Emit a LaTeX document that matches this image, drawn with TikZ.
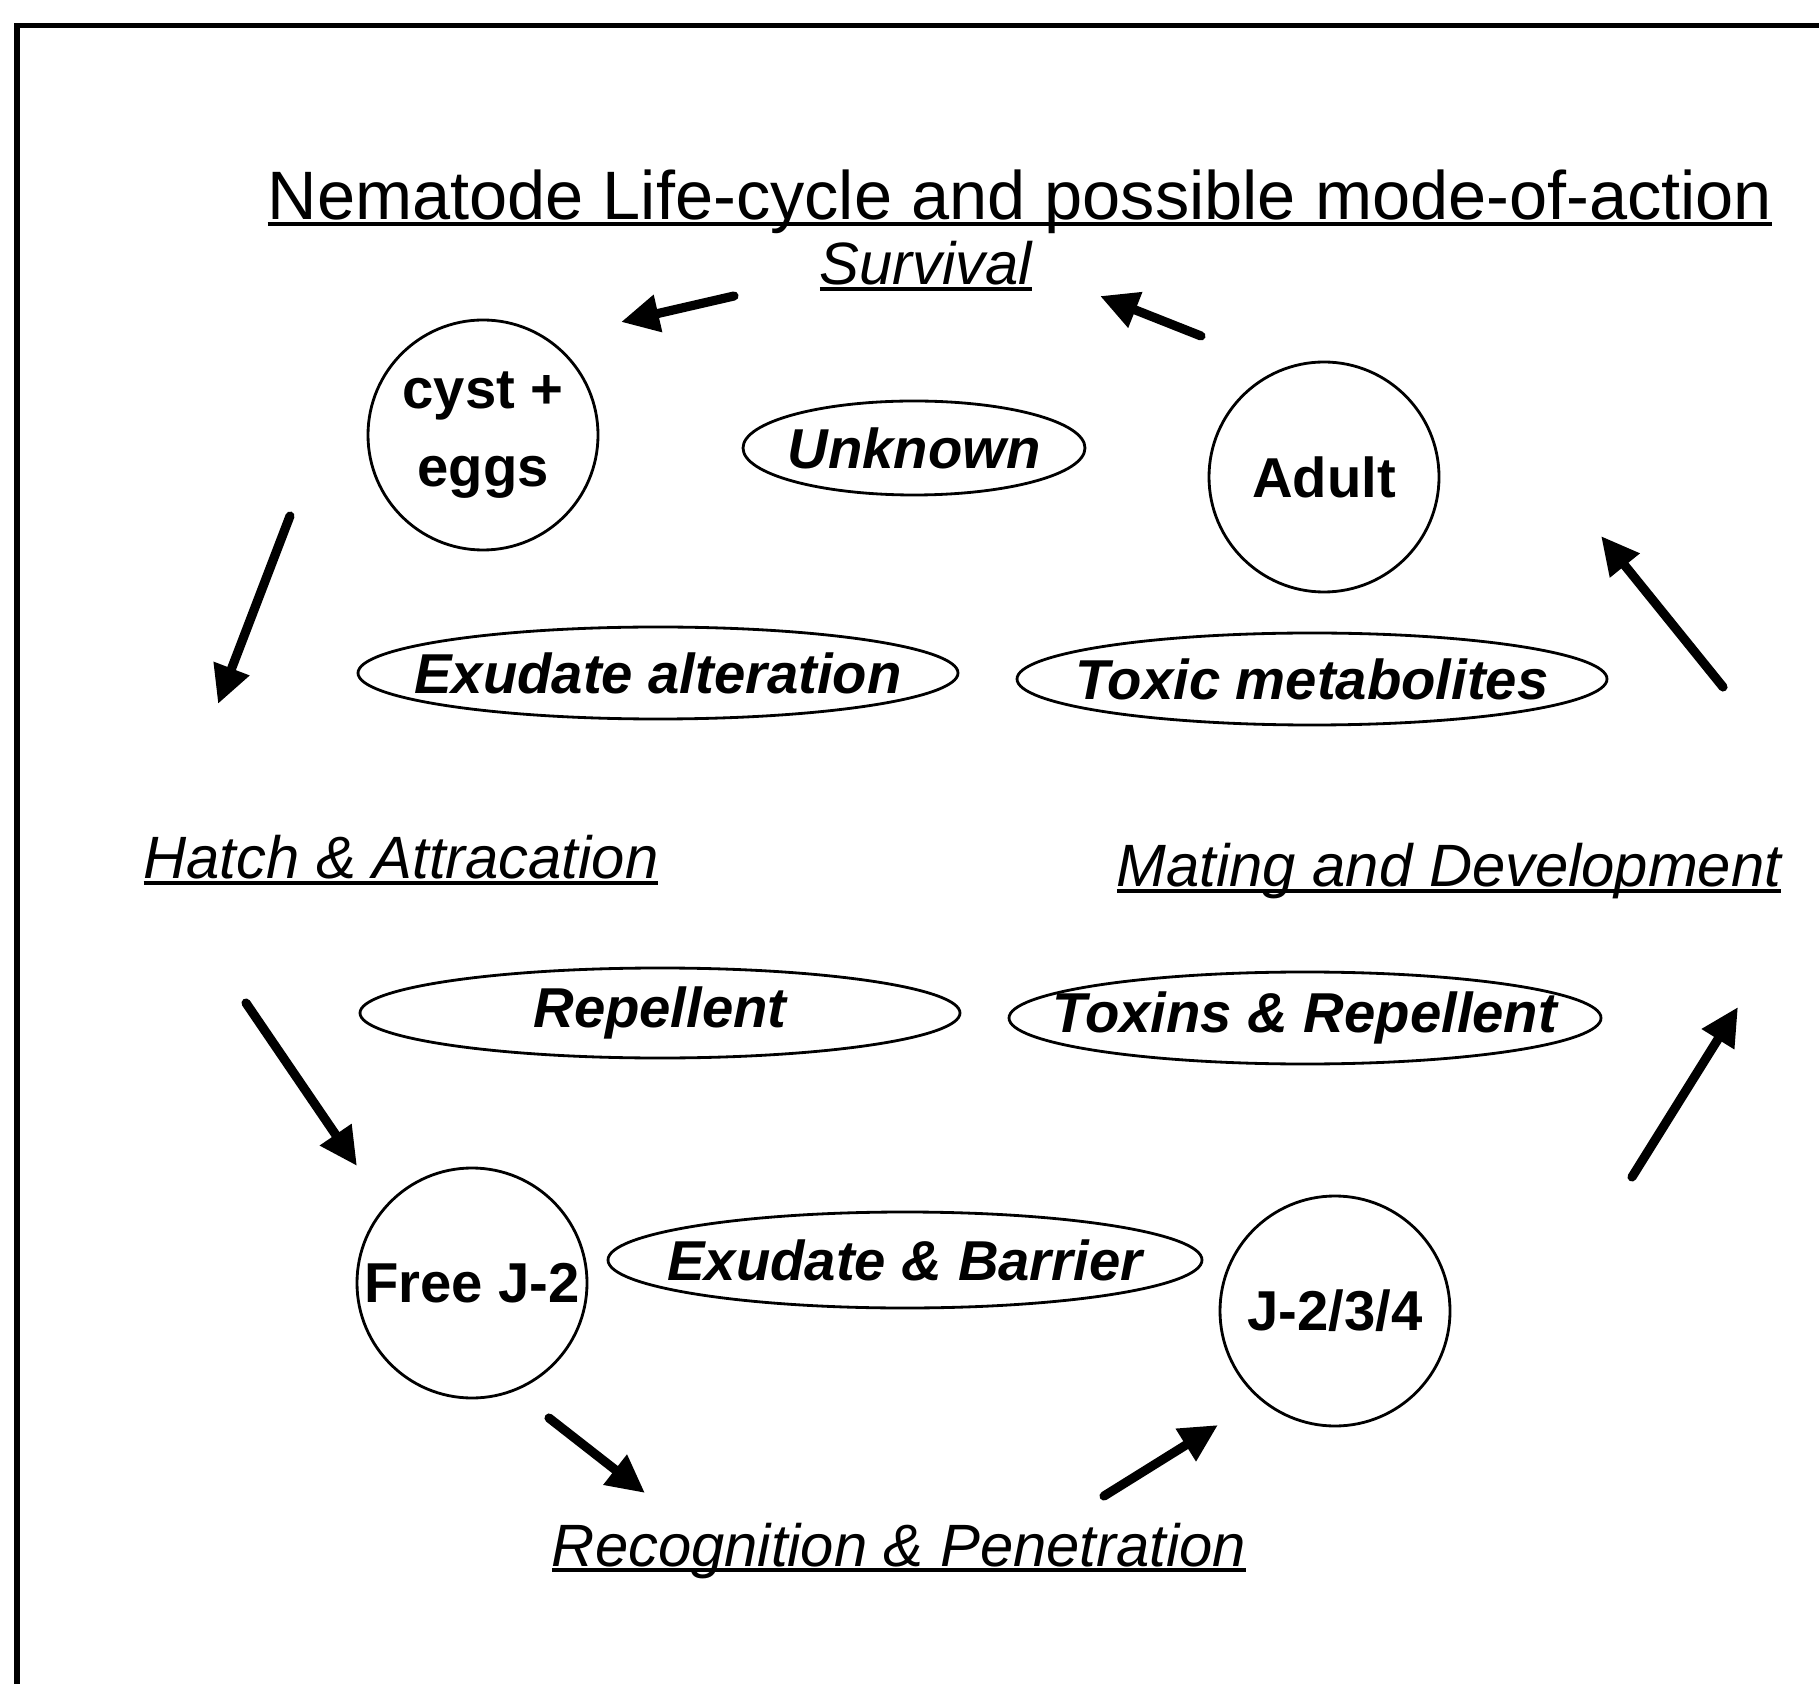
\documentclass[tikz,border=0pt]{standalone}
\usepackage{fontspec}
\setmainfont{Liberation Sans}
\usetikzlibrary{arrows.meta}
\newcommand\ulabel[1]{\setbox0\hbox{#1}\rlap{\rule[-1.8pt]{\wd0}{1.1pt}}\box0}

\begin{document}
\begin{tikzpicture}[stage/.style={circle,draw,line width=0.8pt,inner sep=0pt,minimum size=2.3cm,align=center,font=\fontsize{16}{22}\selectfont\bfseries},
    effect/.style={inner sep=0pt,font=\fontsize{16}{19}\selectfont\bfseries\itshape},
    rim/.style={line width=0.8pt},
    phase/.style={anchor=base,font=\fontsize{17}{20}\selectfont\itshape},
    cycle/.style={line width=2.6pt,line cap=round,-{Triangle[length=0.38cm,width=0.36cm]}}]
    \useasboundingbox (0,0) rectangle (18.19,-16.84);
    \draw[line width=1.5pt] (0.17,-16.84) -- (0.17,-0.255) -- (18.19,-0.255);
    \node[anchor=base,font=\fontsize{19.5}{22}\selectfont] (title) at (10.2,-2.2) {\ulabel{Nematode Life-cycle and possible mode-of-action}};
    \node[phase] (surv) at (9.26,-2.85) {\ulabel{Survival}};
    \node[phase] (hatch) at (4.01,-8.79) {\ulabel{Hatch \& Attracation}};
    \node[phase] (mating) at (14.49,-8.87) {\ulabel{Mating and Development}};
    \node[phase] (recog) at (8.99,-15.66) {\ulabel{Recognition \& Penetration}};
    \node[stage] (cyst) at (4.83,-4.35) {cyst +\\eggs};
    \node[stage] (adult) at (13.24,-4.77) {Adult};
    \node[stage] (freej) at (4.72,-12.83) {Free J-2};
    \node[stage] (latej) at (13.35,-13.11) {J-2/3/4};
    \node[effect] (unknown) at (9.14,-4.48) {Unknown};
    \node[effect] (exalt) at (6.58,-6.73) {Exudate alteration};
    \node[effect] (toxmet) at (13.12,-6.79) {Toxic metabolites};
    \node[effect] (repel) at (6.6,-10.13) {Repellent};
    \node[effect] (toxrep) at (13.05,-10.18) {Toxins \& Repellent};
    \node[effect] (barrier) at (9.05,-12.6) {Exudate \& Barrier};
    \draw[rim] (unknown) ellipse (1.71cm and 0.47cm);
    \draw[rim] (exalt) ellipse (3cm and 0.46cm);
    \draw[rim] (toxmet) ellipse (2.95cm and 0.46cm);
    \draw[rim] (repel) ellipse (3cm and 0.45cm);
    \draw[rim] (toxrep) ellipse (2.96cm and 0.46cm);
    \draw[rim] (barrier) ellipse (2.97cm and 0.48cm);
    \coordinate (sl0) at (7.34,-2.96); \coordinate (sl1) at (6.21,-3.22);
    \coordinate (sr0) at (12.01,-3.36); \coordinate (sr1) at (11,-2.96);
    \coordinate (hl0) at (2.9,-5.16); \coordinate (hl1) at (2.18,-7.04);
    \coordinate (hr0) at (17.23,-6.87); \coordinate (hr1) at (16.01,-5.36);
    \coordinate (ml0) at (2.46,-10.03); \coordinate (ml1) at (3.57,-11.66);
    \coordinate (mr0) at (16.32,-11.77); \coordinate (mr1) at (17.38,-10.07);
    \coordinate (rl0) at (5.49,-14.18); \coordinate (rl1) at (6.45,-14.93);
    \coordinate (rr0) at (11.04,-14.96); \coordinate (rr1) at (12.18,-14.25);
    \draw[cycle] (sl0) -- (sl1);
    \draw[cycle] (sr0) -- (sr1);
    \draw[cycle] (hl0) -- (hl1);
    \draw[cycle] (hr0) -- (hr1);
    \draw[cycle] (ml0) -- (ml1);
    \draw[cycle] (mr0) -- (mr1);
    \draw[cycle] (rl0) -- (rl1);
    \draw[cycle] (rr0) -- (rr1);
\end{tikzpicture}
\end{document}
